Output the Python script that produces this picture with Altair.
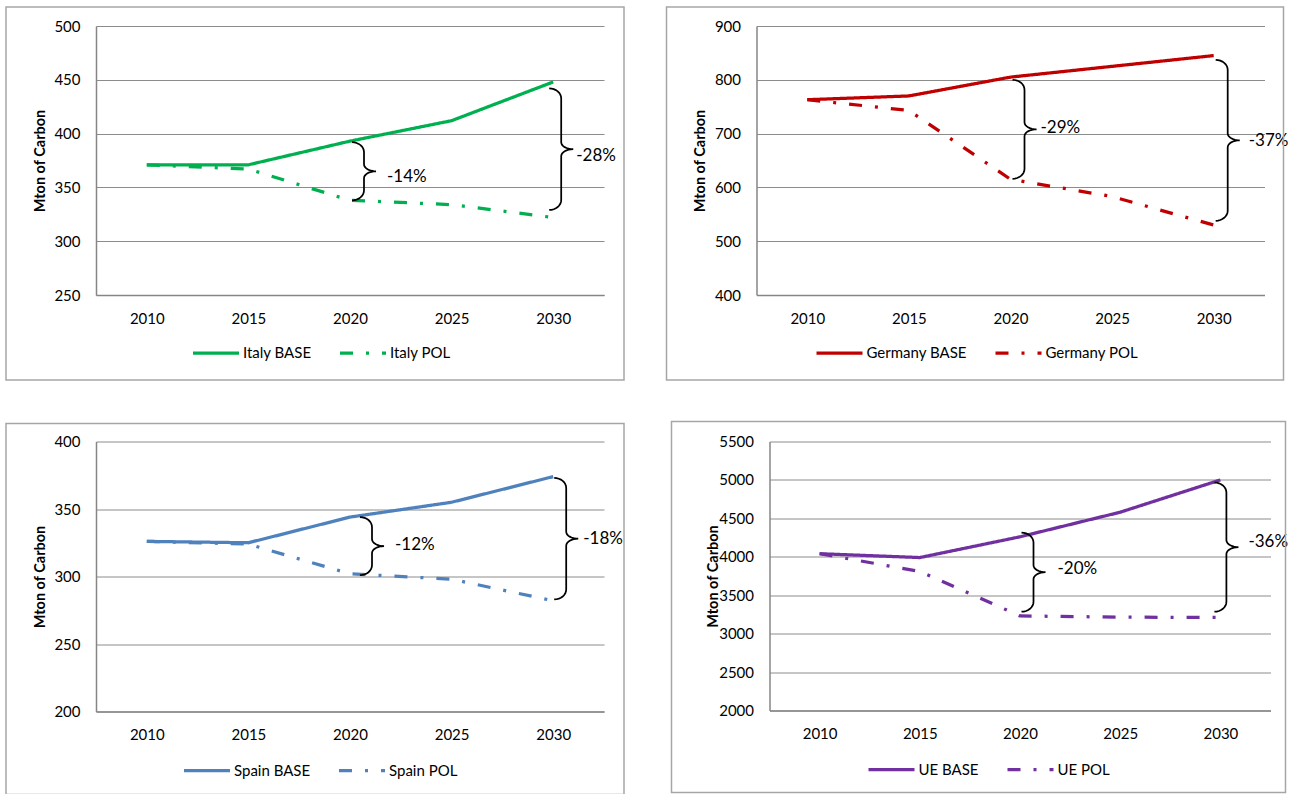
import math

import altair as alt
import pandas as pd

# ---------------------------------------------------------------------------
# Data: carbon emissions (Mton of Carbon), baseline vs. policy scenario
# ---------------------------------------------------------------------------
years = [2010, 2015, 2020, 2025, 2030]

italy_base = [371, 371, 393, 412, 448]
italy_pol = [371, 367, 338, 334, 322]

germany_base = [763, 770, 805, 825, 845]
germany_pol = [763, 743, 615, 583, 530]

spain_base = [326, 325, 344, 355, 374]
spain_pol = [326, 324, 302, 298, 282]

ue_base = [4040, 3990, 4260, 4580, 5000]
ue_pol = [4040, 3810, 3230, 3215, 3210]

# Reduction braces: (year, upper value, lower value, label)
italy_braces = [(2020, 392, 338, "-14%"), (2030, 442, 329, "-28%")]
germany_braces = [(2020, 800, 616, "-29%"), (2030, 837, 538, "-37%")]
spain_braces = [(2020, 344, 301, "-12%"), (2030, 373, 283, "-18%")]
ue_braces = [(2020, 4314, 3285, "-20%"), (2030, 4966, 3285, "-36%")]

# ---------------------------------------------------------------------------
# Layout / styling of each panel
#   box: frame offsets (left, right, top, bottom) around the plot area, px
#   legend: (legendX, legendY) relative to the plot area
#   brace_style: per brace (x shift px, label dx px from brace start, label dy px)
# ---------------------------------------------------------------------------
panels = {
    "Italy": dict(w=508, h=269, domain=(250, 500), step=50, color="#00B050",
                  box=(-90, 20, -19, 85), legend=(95, 302),
                  brace_style=[(2, 35, 6), (-4, 27, 7)]),
    "Germany": dict(w=508, h=269, domain=(400, 900), step=100, color="#C00000",
                    box=(-90, 19, -19, 85), legend=(58, 302),
                    brace_style=[(2, 28, -1), (2, 33, 1)]),
    "Spain": dict(w=508, h=270, domain=(200, 400), step=50, color="#4F81BD",
                  box=(-90, 20, -18, 83), legend=(86, 304),
                  brace_style=[(10, 35, -1), (1, 29, 0)]),
    "UE": dict(w=501, h=269, domain=(2000, 5500), step=500, color="#7030A0",
               box=(-98, 15, -20, 82), legend=(97, 303),
               brace_style=[(1.5, 36, -3), (-6, 34, -5)]),
}

X_DOMAIN = [2007.5, 2032.5]
POL_DASH = [13, 13, 3, 13]
FONT = "Lato"


def brace_path(height_px, hook=12.0, tip=12.0):
    """Points (dx, dy) in px of a right-facing curly brace, dy pointing down."""
    rv_h = min(10.0, height_px / 4)
    rv_m = min(7.0, height_px / 4)
    half = height_px / 2
    pts = []
    n = 8
    for i in range(n + 1):
        t = math.pi / 2 * i / n
        pts.append((hook * math.sin(t), rv_h * (1 - math.cos(t))))
    for i in range(n + 1):
        t = math.pi / 2 * i / n
        pts.append((hook + tip - tip * math.cos(t), half - rv_m + rv_m * math.sin(t)))
    for i in range(n + 1):
        t = math.pi / 2 * i / n
        pts.append((hook + tip - tip * math.sin(t), half + rv_m - rv_m * math.cos(t)))
    for i in range(n + 1):
        t = math.pi / 2 * i / n
        pts.append((hook * math.cos(t), height_px - rv_h + rv_h * math.sin(t)))
    return pts


def panel(name, base, pol, braces):
    cfg = panels[name]
    w, h = cfg["w"], cfg["h"]
    lo, hi = cfg["domain"]
    px_per_year = w / (X_DOMAIN[1] - X_DOMAIN[0])
    px_per_unit = h / (hi - lo)

    labels = [f"{name} BASE", f"{name} POL"]
    series = pd.DataFrame({
        "year": years + years,
        "value": base + pol,
        "series": [labels[0]] * len(years) + [labels[1]] * len(years),
    })

    # brace outlines and their labels
    brace_rows, label_rows = [], []
    for k, ((year, top, bottom, text), (shift, ldx, ldy)) in enumerate(
            zip(braces, cfg["brace_style"])):
        height_px = (top - bottom) * px_per_unit
        for j, (dx, dy) in enumerate(brace_path(height_px)):
            brace_rows.append({
                "year": year + (shift + dx) / px_per_year,
                "value": top - dy / px_per_unit,
                "brace": k,
                "i": j,
            })
        label_rows.append({
            "year": year + (shift + ldx) / px_per_year,
            "value": (top + bottom) / 2 - ldy / px_per_unit,
            "text": text,
        })
    brace_df = pd.DataFrame(brace_rows)
    label_df = pd.DataFrame(label_rows)

    y_ticks = list(range(lo, hi + 1, cfg["step"]))

    # shared positional encodings for every layer of the panel
    x_enc = alt.X("year:Q", title=None,
                  scale=alt.Scale(domain=X_DOMAIN, nice=False, zero=False),
                  axis=alt.Axis(values=years, format="d", grid=False))
    y_enc = alt.Y("value:Q", title="Mton of Carbon",
                  scale=alt.Scale(domain=[lo, hi], nice=False, zero=False),
                  axis=alt.Axis(values=y_ticks, format="d", grid=True, titleY=h / 2))

    legend = alt.Legend(
        orient="none",
        legendX=cfg["legend"][0],
        legendY=cfg["legend"][1],
        direction="horizontal",
        symbolType="stroke",
        symbolSize=2116,
        symbolStrokeWidth=3.25,
        labelFont=FONT,
        labelFontSize=15,
        labelColor="black",
        labelOffset=2,
        columnPadding=21,
        padding=0,
    )

    lines = alt.Chart(series).mark_line(strokeWidth=3.25).encode(
        x=x_enc,
        y=y_enc,
        color=alt.Color("series:N", title=None, legend=legend,
                        scale=alt.Scale(domain=labels, range=[cfg["color"], cfg["color"]])),
        strokeDash=alt.StrokeDash("series:N", title=None, legend=legend,
                                  scale=alt.Scale(domain=labels, range=[[1, 0], POL_DASH])),
    )

    brace_marks = alt.Chart(brace_df).mark_line(color="black", strokeWidth=1.75).encode(
        x=x_enc,
        y=y_enc,
        detail="brace:N",
        order="i:Q",
    )

    brace_text = alt.Chart(label_df).mark_text(
        align="left", baseline="middle", font=FONT, fontSize=17, color="black"
    ).encode(
        x=x_enc,
        y=y_enc,
        text="text:N",
    )

    bl, br, bt, bb = cfg["box"]
    frame = alt.Chart(pd.DataFrame({"k": [0]})).mark_rect(
        fillOpacity=0, stroke="#a6a6a6", strokeWidth=1.5
    ).encode(
        x=alt.value(bl), x2=alt.value(w + br),
        y=alt.value(bt), y2=alt.value(h + bb),
    )

    return alt.layer(lines, brace_marks, brace_text, frame).properties(width=w, height=h)


italy = panel("Italy", italy_base, italy_pol, italy_braces)
germany = panel("Germany", germany_base, germany_pol, germany_braces)
spain = panel("Spain", spain_base, spain_pol, spain_braces)
ue = panel("UE", ue_base, ue_pol, ue_braces)

top_row = alt.hconcat(italy, germany, spacing=40.5).resolve_scale(
    color="independent", strokeDash="independent")
bottom_row = alt.hconcat(spain, ue, spacing=45.5).resolve_scale(
    color="independent", strokeDash="independent")

chart = alt.vconcat(top_row, bottom_row, spacing=39.5).resolve_scale(
    color="independent", strokeDash="independent"
).properties(
    padding={"left": 5, "top": 6, "right": 0, "bottom": 0},
    background="white",
).configure(
    font=FONT,
).configure_view(
    strokeWidth=0,
).configure_axis(
    labelFont=FONT,
    labelFontSize=15,
    labelColor="black",
    labelFlush=False,
    labelOverlap=False,
    ticks=False,
    domainColor="#868686",
    domainWidth=1.5,
    gridColor="#8c8c8c",
    gridWidth=1,
).configure_axisX(
    labelPadding=16,
).configure_axisY(
    labelPadding=16,
    titleFont=FONT,
    titleFontSize=14.5,
    titleFontWeight="bold",
    titleColor="black",
    titleAngle=270,
    titleAlign="center",
    titleBaseline="middle",
    titleX=-56,
)

chart.save("out.html", embed_options={"renderer": "svg", "actions": False})
